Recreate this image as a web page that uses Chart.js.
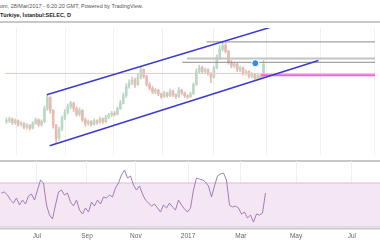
<!DOCTYPE html>
<html>
<head>
<meta charset="utf-8">
<script src="https://cdn.jsdelivr.net/npm/chart.js@4.4.1/dist/chart.umd.min.js"></script>
<style>
  html, body { margin: 0; padding: 0; background: #fff; }
  body { width: 380px; height: 240px; position: relative; overflow: hidden; font-family: "Liberation Sans", Arial, sans-serif; }
  .hdr { position: absolute; left: 0; font-size: 5.5px; white-space: nowrap; line-height: 7px; }
  #h1 { top: 3px; color: #555; }
  #h2 { top: 12px; color: #222; font-weight: bold; }
  .sep { position: absolute; left: 0; width: 380px; background: #c8c8c8; }
  #mainBox { position: absolute; left: 0; top: 23px; width: 380px; height: 137px; }
  #rsiBox { position: absolute; left: 0; top: 161px; width: 380px; height: 79px; }
</style>
</head>
<body>
<div class="hdr" id="h1">om, 28/Mar/2017 - 6:20:20 GMT, Powered by TradingView.</div>
<div class="hdr" id="h2">Türkiye, İstanbul:SELEC, D</div>
<div class="sep" style="top:21px;height:2px"></div>
<div id="mainBox"><canvas id="mainChart"></canvas></div>
<div class="sep" style="top:160px;height:1.5px"></div>
<div id="rsiBox"><canvas id="rsiChart"></canvas></div>
<script>
// SELEC daily candles (sampled), price in TRY
const opens  = [2.36,2.37,2.39,2.35,2.37,2.33,2.34,2.30,2.32,2.29,2.34,2.38,2.33,2.36,2.50,2.62,2.48,2.32,2.18,2.28,
                2.40,2.46,2.52,2.56,2.50,2.44,2.48,2.38,2.34,2.36,2.33,2.37,2.35,2.39,2.36,2.41,2.43,2.45,2.44,2.50,
                2.56,2.64,2.74,2.78,2.81,2.76,2.84,2.92,2.85,2.76,2.72,2.68,2.70,2.66,2.63,2.67,2.64,2.69,2.65,2.63,
                2.70,2.67,2.64,2.63,2.66,2.76,2.90,2.94,2.90,2.92,2.88,2.84,2.94,3.05,3.14,3.18,3.12,3.00,2.96,2.98,
                2.92,2.94,2.88,2.90,2.85,2.87,2.83,2.86,2.84];
const highs  = [2.40,2.41,2.40,2.39,2.38,2.36,2.35,2.34,2.33,2.36,2.40,2.39,2.38,2.53,2.65,2.63,2.49,2.33,2.30,2.42,
                2.49,2.55,2.58,2.57,2.52,2.51,2.49,2.40,2.38,2.37,2.39,2.38,2.41,2.40,2.43,2.45,2.47,2.47,2.52,2.59,
                2.67,2.77,2.81,2.84,2.83,2.87,2.95,2.93,2.86,2.78,2.74,2.72,2.71,2.67,2.69,2.68,2.71,2.70,2.66,2.73,
                2.71,2.68,2.65,2.68,2.78,2.93,2.97,2.96,2.94,2.93,2.89,2.96,3.08,3.18,3.22,3.21,3.13,3.02,3.00,2.99,
                2.96,2.95,2.92,2.91,2.89,2.88,2.88,2.87,3.02];
const lows   = [2.34,2.35,2.33,2.33,2.31,2.31,2.28,2.28,2.27,2.28,2.33,2.31,2.31,2.35,2.48,2.45,2.29,2.13,2.16,2.26,
                2.38,2.44,2.50,2.47,2.42,2.42,2.36,2.31,2.32,2.31,2.32,2.33,2.34,2.34,2.35,2.39,2.41,2.42,2.43,2.49,
                2.55,2.62,2.72,2.76,2.73,2.75,2.82,2.83,2.74,2.70,2.66,2.66,2.64,2.61,2.62,2.62,2.63,2.63,2.61,2.62,
                2.65,2.62,2.61,2.62,2.65,2.75,2.88,2.88,2.88,2.86,2.78,2.83,2.93,3.03,3.12,3.10,2.98,2.94,2.94,2.90,
                2.90,2.86,2.86,2.83,2.83,2.80,2.81,2.82,2.83];
const closes = [2.37,2.39,2.35,2.37,2.33,2.34,2.30,2.32,2.29,2.34,2.38,2.33,2.36,2.50,2.62,2.48,2.32,2.18,2.28,2.40,
                2.46,2.52,2.56,2.50,2.44,2.48,2.38,2.34,2.36,2.33,2.37,2.35,2.39,2.36,2.41,2.43,2.45,2.44,2.50,2.56,
                2.64,2.74,2.78,2.81,2.76,2.84,2.92,2.85,2.76,2.72,2.68,2.70,2.66,2.63,2.67,2.64,2.69,2.65,2.63,2.70,
                2.67,2.64,2.63,2.66,2.76,2.90,2.94,2.90,2.92,2.88,2.84,2.94,3.05,3.14,3.18,3.12,3.00,2.96,2.98,2.92,
                2.94,2.88,2.90,2.85,2.87,2.83,2.86,2.84,2.98];
// RSI(14)
const rsi = [60.9,61.8,59.1,54.5,51.8,56.4,50.0,54.5,50.9,58.2,60.0,54.5,63.6,72.7,70.0,50.0,40.9,37.3,50.0,61.8,
             63.6,59.1,60.9,52.7,49.1,54.5,45.5,41.8,47.3,43.6,52.7,49.1,54.5,50.9,57.3,56.4,59.1,57.3,65.5,70.0,
             77.3,81.8,74.5,76.4,68.2,63.6,67.3,60.0,54.5,51.8,49.1,50.9,47.3,43.6,50.0,47.3,51.8,48.2,45.5,54.5,
             50.0,46.4,43.6,47.3,63.6,74.5,73.6,72.7,70.9,67.3,57.3,67.3,76.4,78.2,79.1,72.7,50.0,48.2,49.1,47.3,
             41.8,43.6,38.2,40.9,34.5,41.8,40.9,42.7,60.9];

const tickLabels = ['Jul', 'Sep', 'Nov', '2017', 'Mar', 'May', 'Jul'];
const tickBars = [11.8, 28.5, 44.8, 62.2, 79.8, 98.2, 116.8];

// drawings: channel ends [bar, price], horizontal levels
const upperChannel = [[13.8, 2.65], [92, 3.393]];
const lowerChannel = [[14.8, 2.10], [106.8, 3.02]];
const levelPrices = [3.22, 3.04, 3.00, 2.88, 2.86];
const levelStarts = [68.5, 61.8, 60.2, -0.5, 87.2];
const marker = [85.2, 2.99];

const X_MIN = -0.5, X_MAX = 126.17;
const UP = '#bcd8c4', DOWN = '#ecb8b0';
const levelColors = ['#8c8c8c', '#c4c4c4', '#8c8c8c', '#efc4c4', '#f25cf2'];
const levelWidths = [1, 2, 1, 1, 2];

const bars = closes.map((c, i) => i);
const candleColor = c => closes[c.dataIndex] >= opens[c.dataIndex] ? UP : DOWN;

const gridX = {
    type: 'linear', min: X_MIN, max: X_MAX, offset: false,
    afterBuildTicks: s => { s.ticks = tickBars.map(v => ({ value: v })); },
    grid: { color: '#f0f0f0', drawTicks: false },
    border: { display: false },
};

const lineSet = (pts, color, width) => ({
    type: 'line',
    data: pts.map(p => ({ x: p[0], y: p[1] })),
    borderColor: color, borderWidth: width,
    pointRadius: 0, fill: false, tension: 0,
});

// first dataset is drawn on top
const mainDatasets = [{
    type: 'line', showLine: false,
    data: [{ x: marker[0], y: marker[1] }],
    pointRadius: 3.5, pointBackgroundColor: '#2f8fe8', pointBorderColor: '#fff', pointBorderWidth: 1,
}];
mainDatasets.push(lineSet(upperChannel, '#3a3ad2', 1.5));
mainDatasets.push(lineSet(lowerChannel, '#3a3ad2', 1.5));
levelPrices.forEach((p, k) => {
    mainDatasets.push(lineSet([[levelStarts[k], p], [X_MAX, p]], levelColors[k], levelWidths[k]));
});
mainDatasets.push({
    type: 'bar', grouped: false, barThickness: 2, minBarLength: 1,
    data: bars.map(i => ({ x: i, y: [opens[i], closes[i]] })),
    backgroundColor: candleColor,
});
mainDatasets.push({
    type: 'bar', grouped: false, barThickness: 1,
    data: bars.map(i => ({ x: i, y: [lows[i], highs[i]] })),
    backgroundColor: candleColor,
});

new Chart(document.getElementById('mainChart'), {
    type: 'bar',
    data: { datasets: mainDatasets },
    options: {
        responsive: true, maintainAspectRatio: false, animation: false,
        layout: { padding: 0 },
        plugins: { legend: { display: false }, tooltip: { enabled: false } },
        scales: {
            x: { ...gridX, ticks: { display: false }, afterFit: a => { a.height = 0; } },
            y: { display: false, min: 2.00, max: 3.37 },
        },
    },
});

new Chart(document.getElementById('rsiChart'), {
    type: 'line',
    data: {
        datasets: [
            lineSet(bars.map(i => [i, rsi[i]]), '#a67cb8', 1),
            lineSet([[X_MIN, 70], [X_MAX, 70]], '#d2c0d6', 1),
            { ...lineSet([[X_MIN, 30], [X_MAX, 30]], '#d2c0d6', 1), fill: '-1', backgroundColor: '#f4e6f3' },
        ],
    },
    options: {
        responsive: true, maintainAspectRatio: false, animation: false,
        layout: { padding: 0 },
        plugins: { legend: { display: false }, tooltip: { enabled: false } },
        scales: {
            x: {
                ...gridX,
                border: { display: true, color: '#c8c8c8', width: 1.5 },
                ticks: {
                    padding: 3, color: '#666', font: { size: 6.5, family: 'Liberation Sans' },
                    maxRotation: 0, autoSkip: false,
                    callback: (v, idx) => tickLabels[idx],
                },
                afterFit: a => { a.height = 11; },
            },
            y: { display: false, min: 28.2, max: 90 },
        },
    },
});
</script>
</body>
</html>
